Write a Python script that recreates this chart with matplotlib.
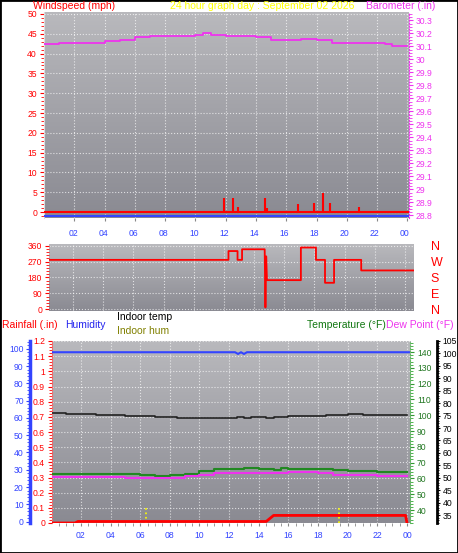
import numpy as np
import matplotlib
matplotlib.use("Agg")
import matplotlib.pyplot as plt
from matplotlib.ticker import MultipleLocator
from matplotlib.colors import LinearSegmentedColormap

plt.rcParams['font.family'] = ['Liberation Sans', 'DejaVu Sans']

W, H = 458, 553
# ---- data ----
hour_ticks = [2, 4, 6, 8, 10, 12, 14, 16, 18, 20, 22, 24]
hour_labels = ["02", "04", "06", "08", "10", "12", "14", "16", "18", "20", "22", "00"]

baro_h = [0, 1, 2, 3, 4, 5, 6, 7, 8, 9, 10, 10.5, 11, 12, 13, 14, 15, 16, 17, 18, 19, 20, 21, 22, 22.5, 23, 23.5, 24]
baro_v = [30.12, 30.13, 30.13, 30.13, 30.14, 30.15, 30.17, 30.18, 30.18, 30.18, 30.19, 30.2, 30.19, 30.18, 30.18, 30.17, 30.15, 30.15, 30.16, 30.15, 30.13, 30.13, 30.13, 30.13, 30.12, 30.1, 30.1, 30.1]

gust_h = [11.9, 12.5, 12.8, 14.6, 14.7, 16.8, 17.8, 18.4, 18.9, 20.8]
gust_v = [3.5, 3.5, 1.2, 3.5, 1.0, 2.0, 2.2, 4.7, 2.2, 1.2]

dir_h = [0, 12.3, 12.3, 12.9, 12.9, 13.2, 13.2, 14.7, 14.75, 14.8, 14.85, 17.1, 17.1, 18.1, 18.1, 18.7, 18.7, 19.3, 19.3, 21.1, 21.1, 24.6]
dir_v = [280, 280, 330, 330, 280, 280, 340, 340, 10, 300, 165, 165, 350, 350, 280, 280, 150, 150, 280, 280, 220, 220]

rain_h = [0, 1.6, 1.8, 14.5, 15.0, 23.9, 24.0]
rain_v = [0, 0, 0.01, 0.01, 0.05, 0.05, 0.0]

hum_h = [0, 12.4, 12.6, 12.8, 13.0, 13.2, 24.2]
hum_v = [98, 98, 97, 98, 97, 98, 98]

temp_h = [0, 2, 4, 6, 7, 8, 9, 10, 11, 12, 13, 14, 15, 15.5, 16, 18, 19, 20, 22, 24]
temp_v = [62.5, 62.6, 62.6, 62.3, 61.5, 62, 63, 64.5, 66, 65.8, 66.3, 66, 65.5, 66.5, 66, 66, 65.5, 64.5, 64, 64]

dew_h = [0, 2, 4, 5, 7, 8, 9, 10, 11, 12, 13, 15, 16, 18, 19, 20, 22, 24]
dew_v = [50.3, 50.3, 50.3, 49.8, 49.8, 50, 50.7, 51.3, 52, 51.8, 52, 52, 52.2, 52, 51.3, 51, 50.8, 50.6]

itemp_h = [0, 1, 3, 5, 7, 8.5, 12, 12.5, 13, 13.5, 14.5, 15, 16, 18.5, 20, 21, 22, 24]
itemp_v = [75.9, 75.6, 75.4, 75.0, 74.6, 74.2, 74.2, 74.5, 74.2, 74.5, 74.2, 74.5, 74.8, 75.1, 75.5, 75.4, 75.3, 75.3]

sun_h = [6.4, 19.4]

fig = plt.figure(figsize=(W/100, H/100), dpi=100)
fig.patch.set_facecolor('white')
fig.add_artist(plt.Rectangle((0, 0), 1, 1, transform=fig.transFigure, fill=False, ec='black', lw=2))

def rect(l, t, r, b):
    return [l/W, 1 - b/H, (r-l)/W, (b-t)/H]

PX = 72 / 100  # points per pixel

grad = np.linspace(0, 1, 256).reshape(-1, 1)
cmap = LinearSegmentedColormap.from_list('g', ['#b9b9bd', '#8a8a92'])

def style(ax, xlim):
    ax.imshow(grad, cmap=cmap, aspect='auto', extent=[0, 1, 0, 1], transform=ax.transAxes, zorder=0)
    ax.set_xlim(*xlim)
    ax.grid(True, color='white', ls=':', lw=0.8, alpha=0.7)
    ax.set_xticks(hour_ticks)
    for s in ax.spines.values():
        s.set_visible(False)

fs = 6.2
# ---- top panel ----
ax1 = fig.add_axes(rect(44, 12, 409, 218))
style(ax1, (0, 24.1))
ax1.set_ylim(-1.5, 50.5)
ax1.yaxis.set_major_locator(MultipleLocator(5))
ax1.yaxis.set_minor_locator(MultipleLocator(1))
ax1.tick_params(axis='y', colors='red', labelsize=fs, length=3, pad=2)
ax1.tick_params(axis='y', which='minor', colors='red', length=2)
ax1.spines['left'].set_visible(True)
ax1.spines['left'].set_color('#dddddd')
ax1.set_xticklabels([])
ax1.tick_params(axis='x', length=2, colors='#888888')
ax1.vlines(gust_h, 0, gust_v, color='red', lw=1.5, zorder=3)
ax1.axhline(0, color='red', lw=1.5, zorder=3)
ax1.axhline(-0.9, color='#3344ff', lw=1.5, zorder=3)
ax1b = ax1.twinx()
ax1b.set_ylim(28.78, 30.365)
ax1b.plot(baro_h, baro_v, color='#ee33ee', lw=1.3, drawstyle='steps-post')
ax1b.yaxis.set_minor_locator(MultipleLocator(0.025))
ax1b.tick_params(axis='y', colors='#ee33ee', labelsize=fs, length=3, pad=2)
ax1b.tick_params(axis='y', which='minor', colors='#ee33ee', length=2)
bt = np.round(np.arange(28.8, 30.31, 0.1), 1)
ax1b.set_yticks(bt)
ax1b.set_yticklabels([f"{v:g}" for v in bt])
for s in ax1b.spines.values():
    s.set_visible(False)
ax1b.spines['right'].set_visible(True)
ax1b.spines['right'].set_color('#ee33ee')
ax1b.spines['right'].set_linestyle(':')
fig.text(33/W, 1-6/H, "Windspeed (mph)", color='red', fontsize=7.5, va='center')
fig.text(170/W, 1-6/H, "24 hour graph day : September 02 2026", color='yellow', fontsize=7.5, va='center')
fig.text(366/W, 1-6/H, "Barometer (.in)", color='#ee33ee', fontsize=7.5, va='center')

# ---- wind dir panel ----
ax2 = fig.add_axes(rect(49, 244, 414, 311))
style(ax2, (0.4, 24.6))
ax2.set_ylim(-10, 370)
ax2.set_yticks([0, 90, 180, 270, 360])
ax2.yaxis.set_minor_locator(MultipleLocator(18))
ax2.tick_params(axis='y', colors='red', labelsize=fs, length=3, pad=2)
ax2.tick_params(axis='y', which='minor', colors='red', length=2)
ax2.plot(dir_h, dir_v, color='red', lw=1.3, zorder=3)
ax2.xaxis.tick_top()
ax2.set_xticklabels(hour_labels, color='#3344ff', fontsize=fs)
ax2.tick_params(axis='x', length=0, pad=4)
ax2r = ax2.twinx()
ax2r.set_ylim(-10, 370)
ax2r.set_yticks([0, 90, 180, 270, 360])
ax2r.set_yticklabels(['N', 'E', 'S', 'W', 'N'], color='red', fontsize=9)
ax2r.tick_params(axis='y', length=0, pad=12)
for s in ax2r.spines.values():
    s.set_visible(False)

# ---- bottom panel ----
ax3 = fig.add_axes(rect(52, 341, 410, 523))
style(ax3, (0.05, 24.2))
ax3.set_ylim(0, 1.2)
ax3.yaxis.set_minor_locator(MultipleLocator(0.02))
rt = np.round(np.arange(0, 1.21, 0.1), 1)
ax3.set_yticks(rt)
ax3.set_yticklabels([f"{v:g}" for v in rt])
ax3.tick_params(axis='y', colors='red', labelsize=fs, length=3, pad=2)
ax3.tick_params(axis='y', which='minor', colors='red', length=2)
ax3.spines['left'].set_visible(True)
ax3.spines['left'].set_color('#ff6666')
ax3.spines['left'].set_linestyle(':')
ax3.set_xticklabels(hour_labels, color='#3344ff', fontsize=fs)
ax3.xaxis.set_minor_locator(MultipleLocator(0.5))
ax3.tick_params(axis='x', length=2, colors='#888888', labelcolor='#3344ff')
ax3.tick_params(axis='x', which='minor', length=2, colors='#888888')
ax3.vlines(sun_h, 0, 0.1, color='yellow', ls=':', lw=1.2, zorder=3)
ax3.plot(rain_h, rain_v, color='red', lw=2, zorder=5)

axh = ax3.twinx()
axh.yaxis.tick_left()
axh.spines['left'].set_position(('outward', 22 * PX))
axh.spines['left'].set_visible(True)
axh.spines['left'].set_color('#3344ff')
axh.spines['left'].set_linewidth(2.5)
for k in ('right', 'top', 'bottom'):
    axh.spines[k].set_visible(False)
axh.set_ylim(-0.8, 104.5)
axh.yaxis.set_major_locator(MultipleLocator(10))
axh.yaxis.set_minor_locator(MultipleLocator(2))
axh.tick_params(axis='y', colors='#3344ff', labelsize=fs, length=3, pad=1.5)
axh.tick_params(axis='y', which='minor', colors='#3344ff', length=2)
axh.plot(hum_h, hum_v, color='#3344ff', lw=1.5, zorder=4)

axt = ax3.twinx()
axt.set_ylim(31.8, 147)
axt.yaxis.set_minor_locator(MultipleLocator(2))
axt.set_yticks(range(40, 141, 10))
axt.tick_params(axis='y', colors='#339933', labelsize=fs, length=3, pad=2, labelcolor='#227722')
axt.tick_params(axis='y', which='minor', colors='#33aa33', length=2)
axt.spines['right'].set_visible(True)
axt.spines['right'].set_color('#66bb66')
axt.spines['right'].set_linestyle(':')
for k in ('left', 'top', 'bottom'):
    axt.spines[k].set_visible(False)
axt.plot(temp_h, temp_v, color='#228822', lw=1.5, drawstyle='steps-post', zorder=3)

axd = ax3.twinx()
axd.spines['right'].set_position(('outward', 27 * PX))
axd.spines['right'].set_visible(True)
axd.spines['right'].set_color('black')
axd.spines['right'].set_linewidth(2)
for k in ('left', 'top', 'bottom'):
    axd.spines[k].set_visible(False)
axd.set_ylim(31.8, 104.2)
axd.set_yticks(range(35, 106, 5))
axd.yaxis.set_minor_locator(MultipleLocator(1))
axd.tick_params(axis='y', colors='black', labelsize=fs, length=2.5, pad=1.5)
axd.tick_params(axis='y', which='minor', length=1.5)
axd.plot(dew_h, dew_v, color='#ee33ee', lw=1.5, drawstyle='steps-post', zorder=2)
axd.plot(itemp_h, itemp_v, color='#222222', lw=1.2, drawstyle='steps-post', zorder=2)

fig.text(2/W, 1-325/H, "Rainfall (.in)", color='red', fontsize=7.5, va='center')
fig.text(65/W, 1-325/H, "Humidity", color='#2222ee', fontsize=7.5, va='center')
fig.text(117/W, 1-317/H, "Indoor temp", color='black', fontsize=7.5, va='center')
fig.text(117/W, 1-331/H, "Indoor hum", color='#808000', fontsize=7.5, va='center')
fig.text(307/W, 1-325/H, "Temperature (°F)", color='#117711', fontsize=7.5, va='center')
fig.text(386/W, 1-325/H, "Dew Point (°F)", color='#ee33ee', fontsize=7.5, va='center')

fig.savefig('out.png', dpi=100, facecolor='white')
